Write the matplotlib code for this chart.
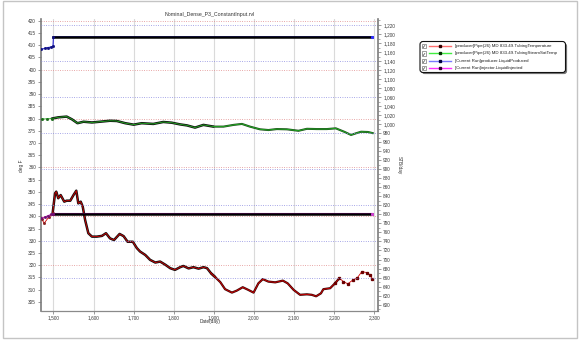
import matplotlib
matplotlib.use("Agg")
import matplotlib.pyplot as plt
from matplotlib.patches import FancyBboxPatch, Rectangle
from matplotlib.lines import Line2D
from matplotlib.transforms import Affine2D
from matplotlib.ticker import FuncFormatter, MultipleLocator

plt.rcParams['font.family'] = ['Liberation Sans', 'DejaVu Sans']

TITLE = "Nominal_Dense_P3_ConstantInput.rvl"
X_LABEL = "Date(day)"
Y_LABEL_LEFT = "deg F"
Y_LABEL_RIGHT = "STB/day"

SERIES_NAMES = [
    "[producer]Pipe(26) MD 833.49.TubingTemperature",
    "[producer]Pipe(26) MD 833.49.TubingSteamSatTemp",
    "[Current Run]producer.LiquidProduced",
    "[Current Run]injector.LiquidInjected",
]

# Tubing temperature (deg F, left axis)
temp_days = [1471, 1477, 1488, 1498, 1504, 1507, 1512, 1518, 1527, 1533,
             1542, 1550, 1557, 1562, 1568, 1573, 1579, 1587, 1596, 1608,
             1621, 1631, 1641, 1651, 1665, 1675, 1685, 1698, 1708, 1716,
             1729, 1741, 1754, 1766, 1779, 1791, 1803, 1816, 1824, 1837,
             1849, 1862, 1874, 1883, 1893, 1903, 1916, 1928, 1945, 1957,
             1972, 1986, 1999, 2011, 2022, 2036, 2053, 2072, 2084, 2099,
             2115, 2132, 2144, 2155, 2167, 2173, 2190, 2202, 2213, 2223,
             2234, 2247, 2257, 2269, 2281, 2289, 2295]
temp = [338.8, 337.2, 339.6, 341.3, 349.4, 350.1, 347.4, 348.7, 346.0, 346.4,
        346.4, 348.7, 350.5, 345.3, 346.0, 344.0, 338.5, 333.1, 331.7, 331.7,
        332.0, 333.1, 331.0, 330.3, 332.8, 331.9, 329.6, 329.6, 327.0, 325.6,
        324.2, 322.2, 321.1, 321.5, 320.2, 318.8, 318.1, 319.2, 319.7, 318.7,
        319.2, 318.6, 319.2, 318.8, 316.7, 315.2, 313.1, 310.2, 308.8, 309.6,
        311.0, 309.9, 308.8, 312.6, 314.3, 313.3, 313.0, 313.7, 312.6, 309.9,
        307.9, 308.1, 307.9, 307.3, 308.5, 310.2, 310.6, 312.6, 314.7, 313.3,
        312.4, 314.0, 314.7, 317.4, 317.0, 316.1, 314.3]

# Steam saturation temperature (deg F, left axis)
sat_days = [1471, 1485, 1496, 1512, 1533, 1546, 1560, 1575, 1596, 1616,
            1641, 1658, 1679, 1700, 1720, 1749, 1774, 1795, 1816, 1833,
            1853, 1874, 1899, 1924, 1949, 1970, 1990, 2015, 2036, 2057,
            2082, 2111, 2132, 2157, 2182, 2204, 2225, 2242, 2255, 2267,
            2284, 2297]
sat = [379.8, 379.9, 380.0, 380.5, 380.8, 379.7, 378.1, 378.7, 378.4, 378.7,
       379.1, 379.0, 378.1, 377.5, 378.1, 377.8, 378.6, 378.3, 377.6, 377.2,
       376.3, 377.4, 376.7, 376.7, 377.4, 377.8, 376.7, 375.6, 375.3, 375.7,
       375.6, 375.0, 375.8, 375.7, 375.7, 376.0, 374.6, 373.3, 374.0, 374.6,
       374.5, 374.0]

# Liquid produced / injected (STB/day, right axis)
prod_days = [1470, 1478, 1486, 1494, 1499, 1500, 2295]
prod = [1166, 1168, 1170, 1171, 1173, 1194, 1194]
inj_days = [1470, 1478, 1486, 1494, 1499, 1500, 2295]
inj = [791, 794, 797, 800, 802, 802, 802]

x_ticks = [1500, 1600, 1700, 1800, 1900, 2000, 2100, 2200, 2300]

W, H = 580, 343
fig = plt.figure(figsize=(W / 100, H / 100), dpi=100)
px = Affine2D().scale(1 / W, -1 / H).translate(0, 1) + fig.transFigure

L, R, T, B = 41, 378.3, 19.3, 310.7
ax = fig.add_axes([L / W, 1 - B / H, (R - L) / W, (B - T) / H])
ax2 = ax.twinx()

ax.set_xlim(1469, 2310)
ax.set_ylim(301.4, 420.6)
ax2.set_ylim(586.5, 1232.6)

comma = FuncFormatter(lambda v, p: f"{int(round(v)):,}")
ax.set_xticks(x_ticks)
ax.xaxis.set_major_formatter(comma)
ax.yaxis.set_major_locator(MultipleLocator(5))
ax2.yaxis.set_major_locator(MultipleLocator(20))
ax2.yaxis.set_minor_locator(MultipleLocator(10))
ax2.yaxis.set_major_formatter(comma)

fs = 3.4
tick_kw = dict(labelsize=fs, labelcolor='#3a3a3a', color='#888888', width=0.6, length=2, pad=1.5)
ax.tick_params(axis='both', **tick_kw)
ax2.tick_params(axis='y', **tick_kw)
ax2.tick_params(axis='y', which='minor', length=1.2, width=0.5, color='#888888')

for s in ['top']:
    ax.spines[s].set_visible(False)
    ax2.spines[s].set_visible(False)
ax2.spines['left'].set_visible(False)
ax2.spines['bottom'].set_visible(False)
ax.spines['left'].set_color('#7a7a7a')
ax.spines['left'].set_linewidth(1.2)
ax.spines['bottom'].set_color('#8a8a8a')
ax.spines['bottom'].set_linewidth(0.9)
ax.spines['right'].set_visible(False)
ax2.spines['right'].set_color('#7a7a7a')
ax2.spines['right'].set_linewidth(1.2)

# Grid: vertical solid, left-axis red dotted, right-axis blue dotted
for xv in x_ticks:
    ax.axvline(xv, color='#dadada', lw=0.8, zorder=0)
for yv in range(320, 421, 20):
    ax.axhline(yv, color='#e08a8a', lw=0.6, ls=(0, (1, 1.8)), zorder=0.5)
for rv in range(660, 1221, 80):
    ax2.axhline(rv, color='#8a8ae0', lw=0.6, ls=(0, (1, 1.8)), zorder=0.5)


def split(days, vals, lo, hi):
    d = [x for x in days if lo <= x <= hi]
    v = [y for x, y in zip(days, vals) if lo <= x <= hi]
    return d, v


# Tubing temperature: densely sampled stretch reads as a dark band
d, v = split(temp_days, temp, 1498, 1905)
ax.plot(d, v, color='#111111', lw=1.8, zorder=2, solid_capstyle='round')
d, v = split(temp_days, temp, 1893, 2215)
ax.plot(d, v, color='#3a0808', lw=1.6, zorder=2, solid_capstyle='round')
ax.plot(temp_days, temp, color='#d40000', lw=0.6, zorder=3)
d, v = split(temp_days, temp, 2200, 2300)
ax.plot(d, v, ls='none', marker='s', ms=1.4, color='#6a0000', zorder=4)
d, v = split(temp_days, temp, 1460, 1500)
ax.plot(d, v, ls='none', marker='s', ms=1.0, color='#8a2020', zorder=4)

# Steam saturation temperature
d, v = split(sat_days, sat, 1494, 1905)
ax.plot(d, v, color='#111111', lw=1.8, zorder=2, solid_capstyle='round')
d, v = split(sat_days, sat, 1895, 2300)
ax.plot(d, v, color='#1e4d1e', lw=1.5, zorder=2, solid_capstyle='round')
ax.plot(sat_days, sat, color='#22b022', lw=0.6, zorder=3)
d, v = split(sat_days, sat, 1460, 1500)
ax.plot(d, v, ls='none', marker='s', ms=1.0, color='#1a6a1a', zorder=4)

# Liquid produced
d, v = split(prod_days, prod, 1500, 2300)
ax2.plot(d, v, color='#000000', lw=1.8, zorder=2)
ax2.plot(prod_days, prod, color='#2020d0', lw=0.8, zorder=1.5)
d, v = split(prod_days, prod, 1460, 1500)
ax2.plot(d, v, ls='none', marker='s', ms=1.0, color='#101080', zorder=3)
ax2.plot(prod_days[-1:], prod[-1:], ls='none', marker='s', ms=1.2, color='#3030ff', zorder=3)

# Liquid injected
d, v = split(inj_days, inj, 1500, 2300)
ax2.plot(d, v, color='#000000', lw=1.8, zorder=2)
ax2.plot(inj_days, inj, color='#c020c0', lw=0.8, zorder=1.5)
d, v = split(inj_days, inj, 1460, 1500)
ax2.plot(d, v, ls='none', marker='s', ms=1.0, color='#701070', zorder=3)
ax2.plot(inj_days[-1:], inj[-1:], ls='none', marker='s', ms=1.2, color='#d040d0', zorder=3)

# Titles and axis labels
fig.text(210, 14.7, TITLE, transform=px, ha='center', va='center', fontsize=3.8, color='#333333')
fig.text(210, 321.7, X_LABEL, transform=px, ha='center', va='center', fontsize=fs, color='#333333')
fig.text(21.7, 166, Y_LABEL_LEFT, transform=px, ha='center', va='center', rotation=90, fontsize=fs, color='#333333')
fig.text(399.5, 165, Y_LABEL_RIGHT, transform=px, ha='center', va='center', rotation=270, fontsize=fs, color='#333333')

# Outer frame
fig.patches.append(Rectangle((3, 0.5), 574, 337.5, transform=px, fill=False,
                             edgecolor='#c4c4c4', lw=1.0))

# Legend panel
lx0, ly0, lw_, lh_ = 420, 41.5, 145.5, 31
fig.patches.append(FancyBboxPatch((lx0 + 1.6, ly0 + 1.6), lw_, lh_, transform=px,
                                  boxstyle="round,pad=0,rounding_size=3",
                                  facecolor='#555555', edgecolor='none', alpha=0.8))
fig.patches.append(FancyBboxPatch((lx0, ly0), lw_, lh_, transform=px,
                                  boxstyle="round,pad=0,rounding_size=3",
                                  facecolor='white', edgecolor='#111111', lw=0.8))
leg_line = ['#ff7070', '#40ee40', '#7a7aff', '#ff30ff']
leg_mark = ['#300000', '#003000', '#000040', '#300030']
rows = [46.0, 53.3, 60.7, 68.0]
for name, lc, mc, yy in zip(SERIES_NAMES, leg_line, leg_mark, rows):
    fig.patches.append(Rectangle((421.5, yy - 2.2), 4.4, 4.4, transform=px,
                                 facecolor='white', edgecolor='#777777', lw=0.5))
    fig.text(423.7, yy, "\u2713", transform=px, ha='center', va='center',
             fontsize=3.6, color='#111111', family=['DejaVu Sans'])
    fig.lines.append(Line2D([428.7, 451.3], [yy, yy], transform=px, color=lc, lw=1.0))
    fig.lines.append(Line2D([439.8], [yy], transform=px, color=mc, marker='s', ms=1.5, ls='none'))
    fig.text(455.3, yy, name, transform=px, ha='left', va='center', fontsize=3.2, color='#222222')

fig.savefig("out.png", dpi=100)
